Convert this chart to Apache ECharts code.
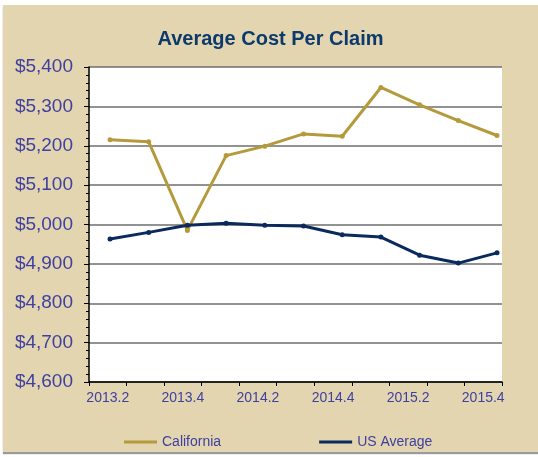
<!DOCTYPE html>
<html>
<head>
<meta charset="utf-8">
<script src="https://cdn.jsdelivr.net/npm/echarts@6/dist/echarts.min.js"></script>
<style>
html,body{margin:0;padding:0;background:#fff;}
#chart{position:absolute;left:3px;top:5px;width:535px;height:447px;background:#e2d5af;box-shadow:0 2px 1px #9a9a9a;}
</style>
</head>
<body>
<div id="chart"></div>
<script>
var quarters = ['2013.2','2013.3','2013.4','2014.1','2014.2','2014.3','2014.4','2015.1','2015.2','2015.3','2015.4'];
var california = [5215,5210,4985,5175,5199,5230,5224,5348,5304,5264,5226];
var usAverage = [4963,4980,4998,5003,4998,4996,4974,4968,4922,4902,4928];

var labelColor = '#4040a0';
var font = 'Liberation Sans, Arial';

// the original plots the points a little right of the category centres,
// so the lines sit on a hidden index axis laid over the category axis
function byIndex(values){
    return values.map(function(v,i){return [i,v];});
}

var chart = echarts.init(document.getElementById('chart'));
chart.setOption({
    animation:false,
    title:{
        text:'Average Cost Per Claim',
        left:'center',
        top:19,
        textStyle:{color:'#0d3a6c',fontSize:20,fontWeight:'bold',fontFamily:font}
    },
    legend:{
        left:116,
        top:425,
        icon:'rect',
        itemWidth:33,
        itemHeight:3,
        itemGap:98,
        textStyle:{color:labelColor,fontSize:14,fontFamily:font},
        data:['California','US Average']
    },
    grid:{left:86,right:36,top:62,bottom:70,containLabel:false,show:true,backgroundColor:'#fff',borderWidth:0},
    xAxis:[{
        type:'category',
        boundaryGap:true,
        data:quarters,
        axisLine:{onZero:false,lineStyle:{color:'#000',width:1.5}},
        axisTick:{show:true,interval:0,length:4,lineStyle:{color:'#000'}},
        axisLabel:{interval:1,margin:9,color:labelColor,fontSize:14,fontFamily:font},
        splitLine:{show:false}
    },{
        type:'value',
        position:'bottom',
        min:-0.543,
        max:10.129,
        show:false
    }],
    yAxis:{
        type:'value',
        min:4600,
        max:5400,
        interval:100,
        axisLine:{show:true,onZero:false,lineStyle:{color:'#000',width:1.5}},
        axisTick:{show:true,length:5,lineStyle:{color:'#000'}},
        minorTick:{show:true,splitNumber:5,length:3,lineStyle:{color:'#000'}},
        axisLabel:{
            margin:16,
            color:labelColor,
            fontSize:19,
            fontFamily:font,
            formatter:function(v){return '$'+v.toLocaleString('en-US');}
        },
        splitLine:{show:true,lineStyle:{color:'#6e6e6e',width:1.5}}
    },
    series:[
        {
            name:'California',
            type:'line',
            xAxisIndex:1,
            data:byIndex(california),
            symbol:'circle',
            symbolSize:5,
            lineStyle:{color:'#b59a3c',width:3},
            itemStyle:{color:'#b59a3c'}
        },
        {
            name:'US Average',
            type:'line',
            xAxisIndex:1,
            data:byIndex(usAverage),
            symbol:'circle',
            symbolSize:5,
            lineStyle:{color:'#0a2a5e',width:3},
            itemStyle:{color:'#0a2a5e'}
        }
    ]
});
</script>
</body>
</html>
